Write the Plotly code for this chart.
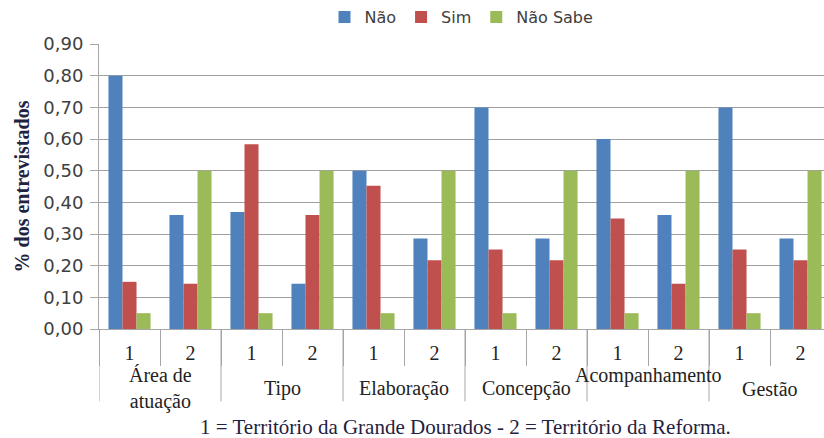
import plotly.graph_objects as go

groups = ["Área de<br>atuação", "Tipo", "Elaboração", "Concepção", "Acompanhamento", "Gestão"]
territories = ["1", "2"]

nao = [0.80, 0.36, 0.37, 0.143, 0.50, 0.286, 0.70, 0.286, 0.60, 0.36, 0.70, 0.286]
sim = [0.149, 0.143, 0.584, 0.36, 0.453, 0.217, 0.251, 0.217, 0.349, 0.143, 0.251, 0.217]
nao_sabe = [0.05, 0.50, 0.05, 0.50, 0.05, 0.50, 0.05, 0.50, 0.05, 0.50, 0.05, 0.50]

series_names = ["Não", "Sim", "Não Sabe"]
colors = ["#4F81BD", "#C0504D", "#9BBB59"]
y_ticks = [0.0, 0.1, 0.2, 0.3, 0.4, 0.5, 0.6, 0.7, 0.8, 0.9]
caption = "1 = Território da Grande Dourados - 2 = Território da Reforma."

n_in = len(territories)
keys = [f"{gi}-{t}" for gi in range(len(groups)) for t in territories]
inner = [t for _ in groups for t in territories]

fig = go.Figure()
for name, vals, col in zip(series_names, [nao, sim, nao_sabe], colors):
    fig.add_trace(go.Bar(x=keys, y=vals, name=name, marker_color=col,
                         marker_line_width=0))

serif = "Liberation Serif, Times New Roman, serif"
sans = "DejaVu Sans, Verdana, sans-serif"
axis_grey = "#A6A6A6"

fig.update_layout(
    width=824, height=438,
    margin=dict(l=99, r=0, t=42, b=109),
    plot_bgcolor="white", paper_bgcolor="white",
    separators=",.",
    barmode="group", bargap=0.31, bargroupgap=0,
    legend=dict(orientation="h", x=0.5, xanchor="center", xref="paper",
                y=1.035, yanchor="bottom", yref="paper",
                font=dict(family=sans, size=16, color="#404040"),
                traceorder="normal"),
    xaxis=dict(type="category", range=[-0.5, 11.385],
               tickvals=keys, ticktext=inner, tickson="boundaries",
               showline=True, linecolor=axis_grey, linewidth=1,
               ticks="outside", ticklen=36, tickcolor=axis_grey,
               ticklabelstandoff=6, showgrid=False,
               tickfont=dict(family=serif, size=20, color="#222222")),
    yaxis=dict(range=[0, 0.9005], tickvals=y_ticks, tickformat=".2f",
               showgrid=True, gridcolor="#A0A0A0", gridwidth=1,
               showline=True, linecolor=axis_grey, linewidth=1,
               ticks="outside", ticklen=8, tickcolor=axis_grey,
               ticklabelstandoff=3, zeroline=False,
               tickfont=dict(family=sans, size=18, color="#404040"),
               title=dict(text="<b>% dos entrevistados</b>", standoff=8,
                          font=dict(family=serif, size=20, color="#1F2240"))),
)

# group dividers and group labels (below the inner tick labels)
for gi, g in enumerate(groups):
    start = gi * n_in - 0.5
    fig.add_shape(type="line", xref="x", yref="paper", x0=start, x1=start,
                  y0=0, y1=-0.254, line=dict(color=axis_grey, width=1))
    label_y = -0.164 if g == "Acompanhamento" else -0.21
    fig.add_annotation(text=g, xref="x", yref="paper", x=start + n_in / 2,
                       y=label_y, xanchor="center", yanchor="middle",
                       showarrow=False, align="center",
                       font=dict(family=serif, size=20, color="#222222"))

fig.add_annotation(text=caption,
                   xref="paper", yref="paper", x=0.506, y=-0.345, xanchor="center",
                   yanchor="middle", showarrow=False,
                   font=dict(family=serif, size=21, color="#1F2240"))

fig.write_html("out.html")
